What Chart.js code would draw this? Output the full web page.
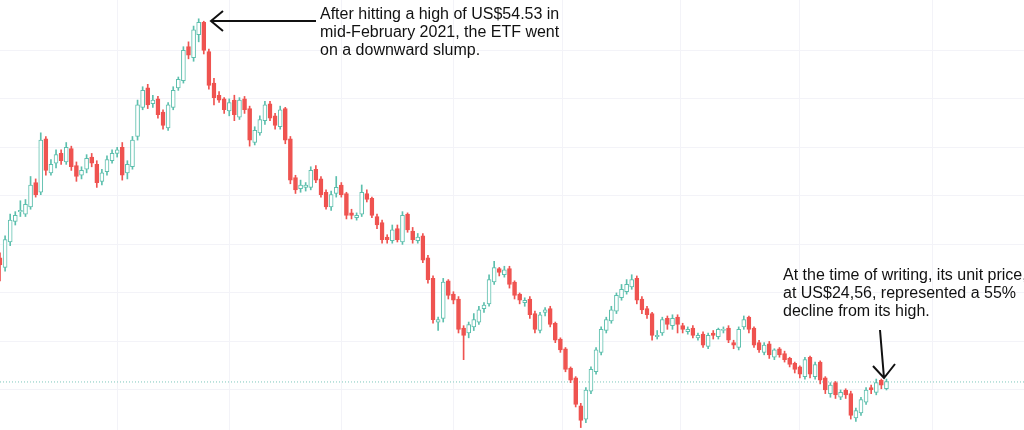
<!DOCTYPE html>
<html>
<head>
<meta charset="utf-8">
<script src="https://cdn.jsdelivr.net/npm/chart.js@4"></script>
<style>
  html, body { margin: 0; padding: 0; background: #fff; }
  #wrap { width: 1024px; height: 430px; position: relative; }
</style>
</head>
<body>
<div id="wrap"><canvas id="etfChart"></canvas></div>
<script>
// daily candles (US$)
const opens = [34.8,34.0,36.1,37.8,38.6,38.4,39.0,41.0,40.2,44.6,
  41.8,42.6,43.4,42.7,43.8,42.4,41.6,42.1,43.1,42.5,41.1,41.9,42.8,43.4,43.9,41.8,42.3,44.8,47.2,48.8,47.5,
  47.9,46.8,45.5,47.2,48.8,49.4,52.2,51.3,53.2,54.2,
  51.8,49.2,48.2,47.9,46.9,47.8,46.4,47.9,47.1,44.3,
  45.1,46.1,47.5,46.5,45.6,47.1,44.6,41.4,40.5,40.6,
  40.6,42.1,41.3,40.2,39.0,40.1,40.8,40.1,38.5,38.1,
  38.4,40.1,39.7,38.2,37.7,36.5,36.2,37.2,36.1,38.4,
  37.0,36.2,36.6,34.8,33.1,29.5,29.8,32.9,31.8,31.4,
  29.0,28.6,29.1,29.5,30.6,31.0,32.8,33.9,33.4,33.9,
  32.8,31.8,31.1,31.4,30.2,28.8,30.3,30.6,29.4,28.1,
  27.3,25.7,24.9,22.6,21.5,23.8,25.4,27.0,28.8,29.6,
  30.4,31.5,32.0,32.4,33.1,31.4,30.6,30.2,28.3,28.6,
  29.8,29.2,29.9,29.2,28.7,29.0,28.2,28.5,27.5,28.6,
  28.3,28.8,29.0,27.8,27.4,29.1,29.9,29.0,27.8,27.0,
  27.7,26.6,27.3,26.9,26.5,26.1,25.8,25.0,26.6,25.0,
  26.2,24.9,23.6,24.5,23.3,23.9,23.6,21.6,22.0,22.9,
  24.1,23.7,24.7,24.0];
const closes = [34.2,36.3,37.9,38.3,38.7,39.2,40.8,40.0,44.5,42.0,
  42.5,43.3,42.8,43.9,42.3,41.5,42.0,43.0,42.6,41.0,41.8,42.9,43.4,43.7,41.6,42.5,44.5,47.4,48.6,47.4,47.8,
  46.6,45.7,47.4,48.6,49.5,51.9,51.5,53.6,54.2,51.9,
  49.0,48.0,47.8,47.0,47.6,46.6,47.8,47.0,44.5,45.3,
  46.2,47.4,46.3,45.7,47.0,44.5,41.2,40.4,40.8,40.8,
  42.0,41.2,40.0,39.0,40.0,40.6,40.0,38.3,38.3,38.3,
  40.2,39.6,38.3,37.5,36.3,36.3,37.1,36.3,38.3,37.1,
  36.3,36.5,34.6,33.0,29.7,29.7,32.8,31.7,31.3,28.9,
  28.4,29.3,29.7,30.5,30.9,33.0,34.0,33.6,33.8,32.6,
  31.7,31.3,31.3,30.1,28.9,30.1,30.5,29.3,28.0,27.2,
  25.6,24.7,22.7,21.4,23.9,25.6,27.2,28.9,29.7,30.5,
  31.7,32.2,32.6,33.0,31.3,30.5,30.1,28.4,28.4,29.7,
  29.3,29.8,29.3,28.9,28.9,28.4,28.4,27.6,28.4,28.4,
  28.9,28.9,28.0,27.6,28.9,29.7,28.9,27.6,27.2,27.6,
  26.8,27.2,26.8,26.4,26.0,25.6,25.2,26.4,25.2,26.0,
  24.7,23.9,24.3,23.5,23.7,23.5,21.8,22.2,23.1,23.9,
  23.9,24.5,24.3,24.6];
const highs = [35.2,36.6,38.4,38.6,39.5,39.6,41.5,41.3,45.1,44.8,
  42.9,43.7,43.7,44.3,44.0,42.7,42.3,43.3,43.4,42.8,42.1,43.2,43.7,43.9,44.3,42.8,44.8,47.8,48.9,49.1,48.2,
  48.1,47.0,47.6,48.9,49.7,52.2,52.6,53.9,54.5,54.3,
  52.0,49.6,48.5,48.0,47.9,48.2,48.0,48.1,47.3,45.6,
  46.5,47.7,47.7,46.7,47.3,47.2,44.8,41.6,41.2,41.0,
  42.3,42.4,41.5,40.4,40.3,41.5,41.0,40.2,38.8,38.5,
  40.8,40.4,39.8,38.4,37.9,36.7,37.5,37.5,38.6,38.5,
  37.3,36.8,36.8,35.0,33.3,29.9,33.1,33.0,32.0,31.6,
  29.2,29.5,30.2,30.8,31.1,33.4,34.5,34.0,34.1,34.1,
  32.9,31.9,31.5,31.6,30.4,30.3,30.7,30.8,29.5,28.2,
  27.4,25.8,25.0,22.8,24.1,25.8,27.4,29.1,29.9,30.8,
  31.9,32.6,33.0,33.4,33.3,31.6,30.8,30.3,28.8,29.9,
  30.0,30.1,30.1,29.4,29.1,29.2,28.6,28.7,28.6,28.8,
  29.0,29.1,29.2,28.0,29.1,30.0,30.0,29.1,28.0,27.8,
  27.9,27.3,27.4,27.1,26.6,26.2,25.9,26.6,26.7,26.2,
  26.3,25.0,24.5,24.6,23.9,24.0,23.8,22.4,23.3,24.1,
  24.3,24.8,24.8,24.8];
const lows = [32.9,33.7,35.8,37.5,38.2,38.2,38.8,39.8,40.0,41.6,
  41.6,42.2,42.5,42.5,42.0,41.1,41.3,41.8,42.3,40.6,40.8,41.6,42.6,43.1,41.2,41.3,42.1,44.5,47.0,47.1,47.2,
  46.3,45.4,45.3,47.0,48.6,49.2,51.2,51.0,52.6,51.6,
  48.7,47.4,47.6,46.7,46.5,46.1,46.2,46.7,44.0,44.1,
  44.9,45.8,46.1,45.4,45.4,44.2,40.9,40.1,40.2,40.3,
  40.4,41.0,39.8,38.8,38.7,39.8,39.8,38.0,38.0,37.9,
  38.2,39.4,38.1,37.2,36.0,36.0,36.0,36.1,35.9,36.9,
  36.0,36.0,34.4,32.7,29.4,28.8,29.5,31.4,31.0,28.6,
  26.4,28.2,28.8,29.3,30.3,30.8,32.6,33.3,33.2,32.3,
  31.4,31.0,30.8,29.8,28.6,28.6,30.0,29.1,27.8,27.0,
  25.4,24.5,22.5,20.8,21.2,23.6,25.2,26.8,28.6,29.4,
  30.2,31.3,31.8,32.2,31.0,30.2,29.8,28.0,28.1,28.4,
  28.9,28.9,28.6,28.6,28.5,28.2,28.0,27.4,27.3,28.1,
  28.1,28.6,27.8,27.3,27.2,28.9,28.6,27.4,27.0,26.8,
  26.5,26.4,26.6,26.2,25.8,25.3,24.9,24.8,24.9,24.8,
  24.4,23.6,23.3,23.2,23.1,23.2,21.5,21.3,21.8,22.7,
  23.6,23.5,24.0,23.9];
const lastPrice = 24.56;
const totalSlots = 202; // empty room on the right
const gridSlots = [10, 36, 54, 80, 98, 123, 144, 170];
const gridPrices = [51.9, 47.9, 43.9, 39.9, 35.9, 31.9, 27.9, 23.9];

const UP = '#5cbfad';
const DOWN = '#ef5350';

const labels = [];
for (let i = 0; i < totalSlots; i++) labels.push(i);

const bodies = opens.map((o, i) => [Math.min(o, closes[i]), Math.max(o, closes[i])]);
const wicks = highs.map((h, i) => [lows[i], h]);
const isUp = opens.map((o, i) => closes[i] >= o);

// annotation text + arrows
const notes = {
  id: 'notes',
  afterDraw(chart) {
    const c = chart.ctx;
    c.save();
    c.fillStyle = '#111';
    c.font = '16px "Liberation Sans", Arial, sans-serif';
    c.textBaseline = 'top';
    ['After hitting a high of US$54.53 in', 'mid-February 2021, the ETF went', 'on a downward slump.']
      .forEach((t, i) => c.fillText(t, 320, 7 + i * 18));
    ['At the time of writing, its unit price,', 'at US$24,56, represented a 55%', 'decline from its high.']
      .forEach((t, i) => c.fillText(t, 783, 268 + i * 18));
    c.strokeStyle = '#111';
    c.lineWidth = 2;
    c.beginPath();
    c.moveTo(316, 21); c.lineTo(211, 21);
    c.moveTo(223, 11); c.lineTo(211, 21); c.lineTo(223, 31);
    c.moveTo(880, 330); c.lineTo(884, 378);
    c.moveTo(873, 366); c.lineTo(884, 378); c.lineTo(895, 364);
    c.stroke();
    c.restore();
  }
};

new Chart(document.getElementById('etfChart'), {
  type: 'bar',
  data: {
    labels: labels,
    datasets: [
      {
        type: 'line',
        data: labels.map(() => lastPrice),
        borderColor: '#7cc7bb',
        borderWidth: 1,
        borderDash: [1, 2],
        pointRadius: 0,
        order: 3
      },
      {
        data: wicks,
        backgroundColor: isUp.map(u => u ? UP : DOWN),
        barThickness: 1,
        grouped: false,
        order: 2
      },
      {
        data: bodies,
        backgroundColor: isUp.map(u => u ? '#ffffff' : DOWN),
        borderColor: isUp.map(u => u ? UP : DOWN),
        borderWidth: 1,
        borderSkipped: false,
        barThickness: 4,
        minBarLength: 1,
        grouped: false,
        order: 1
      }
    ]
  },
  options: {
    responsive: true,
    maintainAspectRatio: false,
    animation: false,
    layout: { padding: 0 },
    plugins: { legend: { display: false }, tooltip: { enabled: false } },
    scales: {
      x: {
        offset: false,
        ticks: { display: false },
        border: { display: false },
        grid: { color: '#f3f3f8', drawTicks: false },
        afterBuildTicks: s => { s.ticks = gridSlots.map(v => ({ value: v })); }
      },
      y: {
        min: 20.6,
        max: 56.05,
        ticks: { display: false },
        border: { display: false },
        grid: { color: '#f3f3f8', drawTicks: false },
        afterBuildTicks: s => { s.ticks = gridPrices.map(v => ({ value: v })); }
      }
    }
  },
  plugins: [notes]
});
</script>
</body>
</html>
